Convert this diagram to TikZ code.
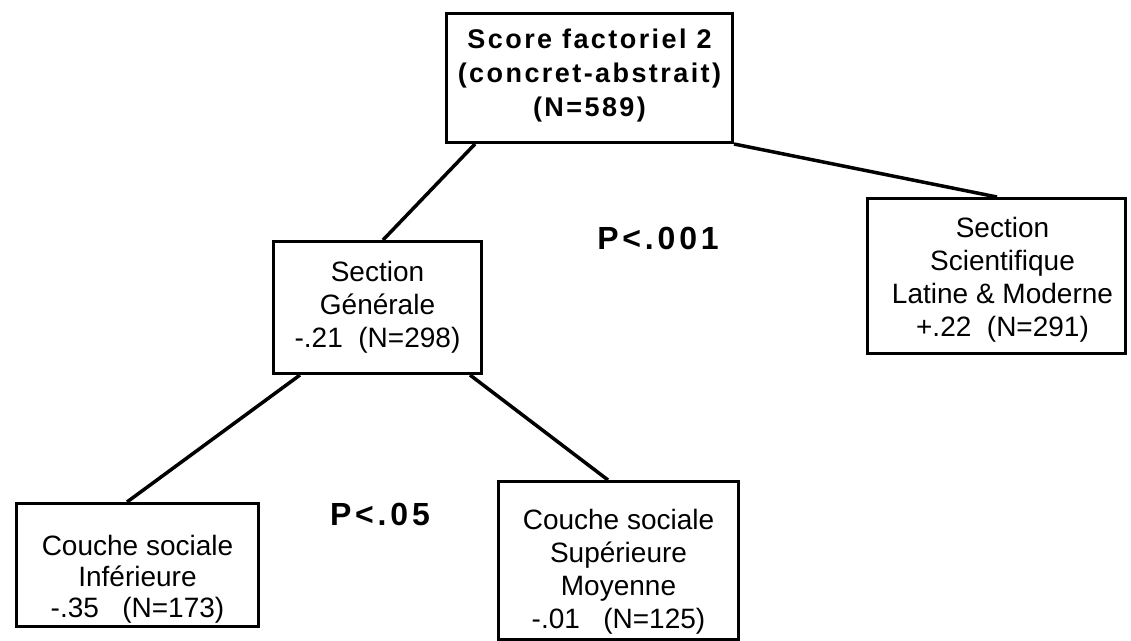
\documentclass[tikz,border=0pt]{standalone}
\usepackage{fontspec}
\setmainfont{Liberation Sans}
\newfontfamily\spacedfont{Liberation Sans}[LetterSpace=9]
\newfontfamily\widefont{Liberation Sans}[LetterSpace=12]
\usetikzlibrary{positioning}

\begin{document}
\begin{tikzpicture}[x=1pt, y=-1pt,
    box/.style={draw, line width=3pt, anchor=north west, inner sep=0pt},
    txt/.style={align=center, inner sep=0pt, font=\fontsize{28}{33}\selectfont},
    link/.style={line width=3.5pt},
    plab/.style={font=\fontsize{32}{32}\widefont\bfseries}]
  \useasboundingbox (0,0) rectangle (1131,640);
  % tree boxes
  \node[box, minimum width=286pt, minimum height=129pt] (root) at (445,12) {};
  \node[box, minimum width=208pt, minimum height=132pt] (sg) at (272,240) {};
  \node[box, minimum width=258pt, minimum height=155pt] (sci) at (866,197) {};
  \node[box, minimum width=242pt, minimum height=123pt] (inf) at (15,502) {};
  \node[box, minimum width=240pt, minimum height=158pt] (sup) at (497,480) {};
  % box texts
  \node[txt, font=\fontsize{27}{34}\spacedfont\bfseries] (roottxt) at ([yshift=2pt]root.center)
    {Score factoriel 2\\(concret-abstrait)\\(N=589)};
  \node[txt] (sgtxt) at (sg.center) {Section\\Générale\\-.21~~(N=298)};
  \node[txt] (scitxt) at ([xshift=6pt, yshift=-4pt]sci.center)
    {Section\\Scientifique\\Latine \& Moderne\\+.22~~(N=291)};
  \node[txt, font=\fontsize{28}{31}\selectfont] (inftxt) at ([yshift=-14pt]inf.center)
    {Couche sociale\\Inférieure\\-.35~~~(N=173)};
  \node[txt] (suptxt) at ([yshift=-11pt]sup.center)
    {Couche sociale\\Supérieure\\Moyenne\\-.01~~~(N=125)};
  % connectors
  \draw[link] ([xshift=30pt]root.south west) -- ([xshift=111pt]sg.north west);
  \draw[link] (root.south east) -- ([xshift=131pt]sci.north west);
  \draw[link] ([xshift=28pt]sg.south west) -- ([xshift=112pt]inf.north west);
  \draw[link] ([xshift=-13pt]sg.south east) -- ([xshift=111pt]sup.north west);
  % significance
  \node[plab] (p1) at (658,238) {P<.001};
  \node[plab] (p2) at (380,514) {P<.05};
\end{tikzpicture}
\end{document}
